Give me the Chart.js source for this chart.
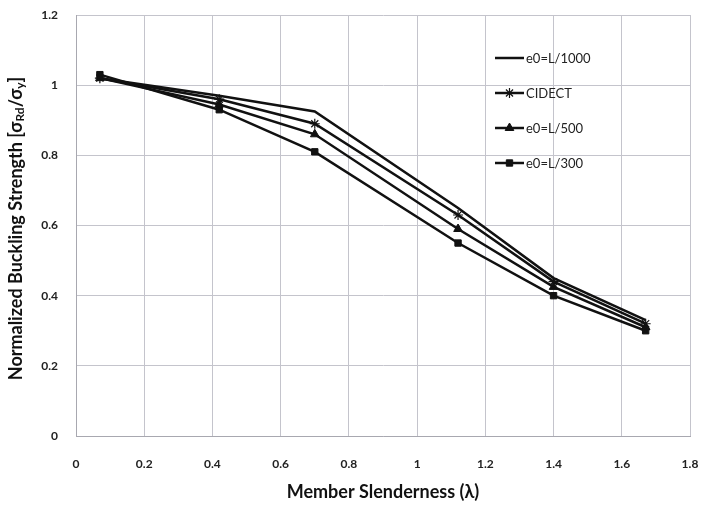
<!DOCTYPE html>
<html>
<head>
<meta charset="utf-8">
<script src="https://cdn.jsdelivr.net/npm/chart.js@4/dist/chart.umd.min.js"></script>
<style>
  body { margin: 0; background: #fff; }
  #wrap { width: 705px; height: 511px; position: relative; }
</style>
</head>
<body>
<div id="wrap"><canvas id="bucklingChart"></canvas></div>
<script>
// member slenderness (x) where each curve was evaluated
let slenderness = [0.07, 0.42, 0.70, 1.12, 1.40, 1.67];
let seriesNames = ["e0=L/1000", "CIDECT", "e0=L/500", "e0=L/300"];
let e0L1000 = [1.02, 0.97, 0.925, 0.65, 0.45, 0.33];
let cidect = [1.02, 0.96, 0.89, 0.63, 0.44, 0.32];
let e0L500 = [1.02, 0.945, 0.86, 0.59, 0.425, 0.31];
let e0L300 = [1.03, 0.93, 0.81, 0.55, 0.40, 0.30];
let xTicks = [0, 0.2, 0.4, 0.6, 0.8, 1, 1.2, 1.4, 1.6, 1.8];
let yTicks = [0, 0.2, 0.4, 0.6, 0.8, 1, 1.2];
// y title pieces: [text, isSubscript]
let yTitleParts = [["Normalized Buckling Strength [σ", false], ["Rd", true], ["/σ", false], ["y", true], ["]", false]];

function toPoints(ys) {
    return ys.map(function (y, i) { return { x: slenderness[i], y: y }; });
}

let fontFamily = 'Lato, "Open Sans", sans-serif';
let gridColor = '#c4c4cc';

let styles = [
    { pointStyle: false, radius: 0 },
    { pointStyle: 'star', radius: 5 },
    { pointStyle: 'triangle', radius: 5 },
    { pointStyle: 'rect', radius: 4.5 }
];
let allSeries = [e0L1000, cidect, e0L500, e0L300];

let datasets = allSeries.map(function (ys, i) {
    return {
        label: seriesNames[i],
        data: toPoints(ys),
        borderColor: '#111',
        backgroundColor: '#111',
        borderWidth: 2.5,
        pointStyle: styles[i].pointStyle,
        pointRadius: styles[i].radius,
        pointBorderWidth: i === 1 ? 1.2 : 1,
        pointBackgroundColor: '#111',
        pointBorderColor: '#111',
        tension: 0
    };
});

// legend drawn inside the plot, like the original
let insideLegend = {
    id: 'insideLegend',
    afterDraw: function (chart) {
        let ctx = chart.ctx;
        let rows = [58, 93, 128, 163];
        ctx.save();
        chart.data.datasets.forEach(function (ds, i) {
            let y = rows[i];
            ctx.strokeStyle = '#111';
            ctx.lineWidth = 2.5;
            ctx.beginPath();
            ctx.moveTo(495, y);
            ctx.lineTo(524, y);
            ctx.stroke();
            if (ds.pointStyle) {
                ctx.fillStyle = '#111';
                ctx.strokeStyle = '#111';
                ctx.lineWidth = ds.pointBorderWidth;
                Chart.helpers.drawPoint(ctx, {
                    pointStyle: ds.pointStyle,
                    radius: ds.pointRadius,
                    rotation: 0,
                    borderWidth: ds.pointBorderWidth
                }, 509.5, y);
            }
            ctx.fillStyle = '#222';
            ctx.font = '13px ' + fontFamily;
            ctx.textBaseline = 'middle';
            ctx.textAlign = 'left';
            ctx.fillText(ds.label, 526, y + 1);
        });
        ctx.restore();
    }
};

// rotated y title with subscripts
let yTitle = {
    id: 'yTitle',
    afterDraw: function (chart) {
        let ctx = chart.ctx;
        let area = chart.chartArea;
        let big = 'bold 18px ' + fontFamily;
        let small = 'bold 12px ' + fontFamily;
        ctx.save();
        let total = 0;
        yTitleParts.forEach(function (p) {
            ctx.font = p[1] ? small : big;
            total += ctx.measureText(p[0]).width;
        });
        ctx.translate(16, (area.top + area.bottom) / 2 + 3);
        ctx.rotate(-Math.PI / 2);
        ctx.fillStyle = '#111';
        ctx.textBaseline = 'alphabetic';
        ctx.textAlign = 'left';
        let x = -total / 2;
        yTitleParts.forEach(function (p) {
            ctx.font = p[1] ? small : big;
            ctx.fillText(p[0], x, p[1] ? 8 : 6);
            x += ctx.measureText(p[0]).width;
        });
        ctx.restore();
    }
};

let chart = new Chart(document.getElementById('bucklingChart'), {
    type: 'line',
    data: { datasets: datasets },
    options: {
        responsive: true,
        maintainAspectRatio: false,
        animation: false,
        layout: { padding: { left: 0, right: 15, top: 15, bottom: 0 } },
        plugins: {
            legend: { display: false },
            tooltip: { enabled: false }
        },
        scales: {
            x: {
                type: 'linear',
                min: 0,
                max: 1.8,
                afterBuildTicks: function (scale) {
                    scale.ticks = xTicks.map(function (v) { return { value: v }; });
                },
                afterFit: function (scale) {
                    scale.height = 75;
                    scale.paddingLeft = 0;
                    scale.paddingRight = 0;
                },
                grid: { color: gridColor, drawTicks: false },
                border: { color: '#a8a8b0' },
                ticks: {
                    padding: 21,
                    color: '#222',
                    font: { family: fontFamily, size: 12, weight: 'bold' },
                    callback: function (v) { return String(+v.toFixed(1)); }
                },
                title: {
                    display: true,
                    text: 'Member Slenderness (λ)',
                    color: '#111',
                    font: { family: fontFamily, size: 18, weight: 'bold' },
                    padding: { top: 0, bottom: 8 }
                }
            },
            y: {
                type: 'linear',
                min: 0,
                max: 1.2,
                afterBuildTicks: function (scale) {
                    scale.ticks = yTicks.map(function (v) { return { value: v }; });
                },
                afterFit: function (scale) {
                    scale.width = 76;
                    scale.paddingTop = 0;
                    scale.paddingBottom = 0;
                },
                grid: { color: gridColor, drawTicks: false },
                border: { color: '#a8a8b0' },
                ticks: {
                    padding: 18,
                    color: '#222',
                    font: { family: fontFamily, size: 12, weight: 'bold' },
                    callback: function (v) { return String(+v.toFixed(1)); }
                },
                title: { display: false }
            }
        }
    },
    plugins: [insideLegend, yTitle]
});
</script>
</body>
</html>
